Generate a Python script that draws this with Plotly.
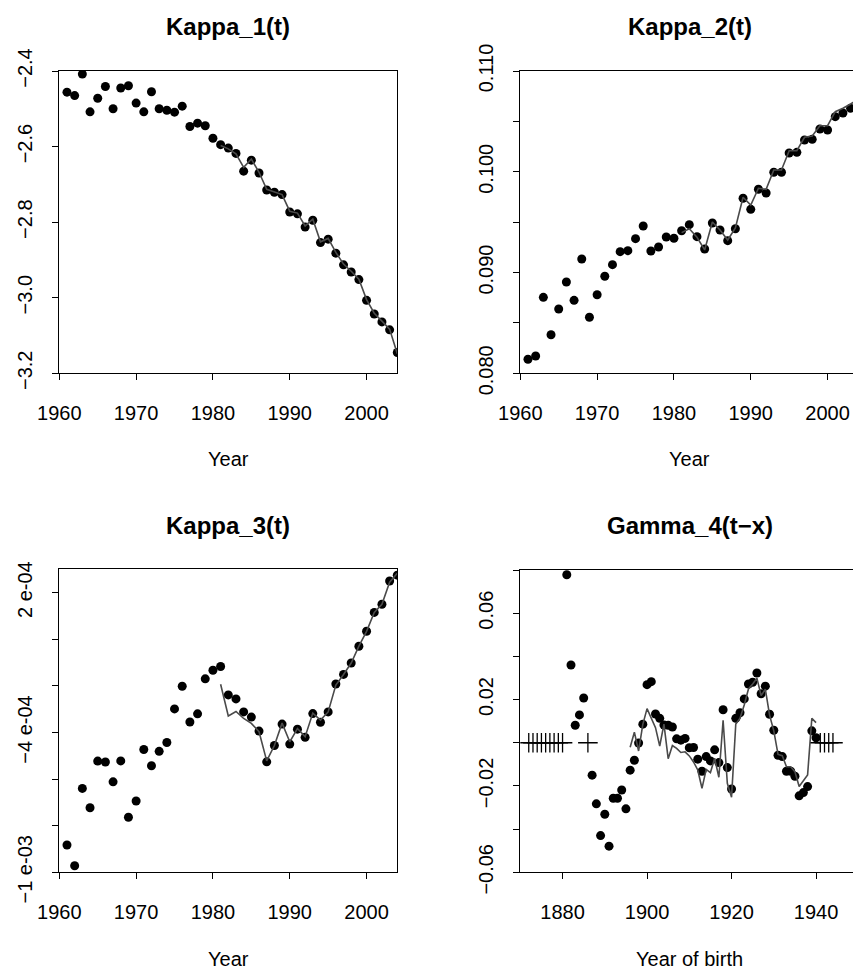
import plotly.graph_objects as go

W, H = 853, 969

# ---------------- data ----------------
years = list(range(1961, 2005))
fit_years = list(range(1981, 2005))

kappa1_pts = [-2.456, -2.465, -2.408, -2.508, -2.472, -2.441, -2.500, -2.445, -2.439, -2.485,
              -2.508, -2.455, -2.500, -2.504, -2.509, -2.493, -2.547, -2.538, -2.545, -2.578,
              -2.595, -2.604, -2.618, -2.665, -2.636, -2.670, -2.715, -2.721, -2.727, -2.773,
              -2.778, -2.813, -2.795, -2.854, -2.845, -2.882, -2.913, -2.932, -2.952, -3.007,
              -3.043, -3.064, -3.085, -3.145]
kappa1_fit = [-2.597, -2.606, -2.619, -2.655, -2.633, -2.668, -2.713, -2.720, -2.727, -2.771,
              -2.776, -2.810, -2.792, -2.852, -2.843, -2.880, -2.911, -2.930, -2.951, -3.005,
              -3.041, -3.062, -3.083, -3.148]

kappa2_pts = [0.08139, 0.08172, 0.08754, 0.08383, 0.08638, 0.08906, 0.08724, 0.09134, 0.08556, 0.08780,
              0.08963, 0.09078, 0.09207, 0.09217, 0.09336, 0.09462, 0.09214, 0.09253, 0.09353, 0.09340,
              0.09415, 0.09475, 0.09356, 0.09234, 0.09492, 0.09422, 0.09316, 0.09435, 0.09737, 0.09627,
              0.09826, 0.09789, 0.09995, 0.09995, 0.10186, 0.10193, 0.10315, 0.10322, 0.10424, 0.10414,
              0.10547, 0.10583, 0.10630, 0.10670]
kappa2_fit = [0.09396, 0.09435, 0.09350, 0.09224, 0.09502, 0.09422, 0.09323, 0.09442, 0.09747, 0.09670,
              0.09836, 0.09826, 0.10018, 0.10018, 0.10209, 0.10209, 0.10342, 0.10355, 0.10457, 0.10457,
              0.10596, 0.10630, 0.10673, 0.10720]

kappa3_pts = [-0.000883, -0.000972, -0.000640, -0.000723, -0.000523, -0.000527, -0.000612, -0.000522,
              -0.000764, -0.000694, -0.000473, -0.000543, -0.000481, -0.000443, -0.000299, -0.000202,
              -0.000355, -0.000320, -0.000170, -0.000133, -0.000117, -0.000239, -0.000256, -0.000312,
              -0.000334, -0.000394, -0.000526, -0.000456, -0.000364, -0.000450, -0.000386, -0.000421,
              -0.000319, -0.000356, -0.000312, -0.000192, -0.000151, -0.000102, -0.000030, 0.000034,
              0.000115, 0.000150, 0.000250, 0.000275]
kappa3_fit = [-0.000193, -0.000329, -0.000310, -0.000340, -0.000361, -0.000397, -0.000522, -0.000456,
              -0.000360, -0.000440, -0.000383, -0.000418, -0.000317, -0.000347, -0.000312, -0.000197,
              -0.000151, -0.000102, -0.000030, 0.000034, 0.000115, 0.000150, 0.000245, 0.000283]

cohort_years = [1881, 1882, 1883, 1884, 1885, 1887, 1888, 1889, 1890, 1891, 1892, 1893, 1894, 1895,
                1896, 1897, 1898, 1899, 1900, 1901, 1902, 1903, 1904, 1905, 1906, 1907, 1908, 1909,
                1910, 1911, 1912, 1913, 1914, 1915, 1916, 1917, 1918, 1919, 1920, 1921, 1922, 1923,
                1924, 1925, 1926, 1927, 1928, 1929, 1930, 1931, 1932, 1933, 1934, 1935, 1936, 1937,
                1938, 1939, 1940]
gamma4_pts = [0.0778, 0.0360, 0.0081, 0.0129, 0.0207, -0.0150, -0.0283, -0.0430, -0.0331, -0.0479,
              -0.0257, -0.0257, -0.0219, -0.0306, -0.0127, -0.0081, -0.0001, 0.0086, 0.0269, 0.0283,
              0.0133, 0.0113, 0.0082, 0.0081, 0.0073, 0.0018, 0.0012, 0.0020, -0.0023, -0.0022,
              -0.0076, -0.0132, -0.0064, -0.0084, -0.0033, -0.0092, 0.0153, -0.0115, -0.0214, 0.0113,
              0.0139, 0.0203, 0.0272, 0.0280, 0.0323, 0.0227, 0.0262, 0.0132, 0.0058, -0.0058,
              -0.0064, -0.0132, -0.0132, -0.0155, -0.0246, -0.0231, -0.0203, 0.0055, 0.0023]
gamma4_fit_years = list(range(1896, 1941))
gamma4_fit = [-0.0021, 0.0049, -0.0038, 0.0085, 0.0158, 0.0110, 0.0070, -0.0015, 0.0086, -0.0074,
              -0.0013, -0.0026, -0.0045, -0.0042, -0.0061, -0.0089, -0.0126, -0.0211, -0.0123, -0.0138,
              -0.0072, -0.0160, 0.0104, -0.0188, -0.0252, 0.0087, 0.0113, 0.0175, 0.0249, 0.0272,
              0.0299, 0.0218, 0.0248, 0.0128, 0.0055, -0.0054, -0.0060, -0.0111, -0.0111, -0.0134,
              -0.0203, -0.0176, -0.0149, 0.0113, 0.0093]
missing_cohorts = [1872, 1873, 1874, 1875, 1876, 1877, 1878, 1879, 1880, 1886, 1941, 1942, 1943, 1944]
missing_vals = [0, 0, 0, 0, 0, 0, 0, 0, 0, 0, 0, 0, 0, 0]

titles = ["Kappa_1(t)", "Kappa_2(t)", "Kappa_3(t)", "Gamma_4(t\u2212x)"]
xtitles = ["Year", "Year", "Year", "Year of birth"]

year_ticks = [1960, 1970, 1980, 1990, 2000]
year_ticktext = ["1960", "1970", "1980", "1990", "2000"]
birth_ticks = [1880, 1900, 1920, 1940]
birth_ticktext = ["1880", "1900", "1920", "1940"]

k1_yticks = [-2.4, -2.6, -2.8, -3.0, -3.2]
k1_yticktext = ["\u22122.4", "\u22122.6", "\u22122.8", "\u22123.0", "\u22123.2"]
k2_yticks = [0.080, 0.085, 0.090, 0.095, 0.100, 0.105, 0.110]
k2_yticktext = ["0.080", "", "0.090", "", "0.100", "", "0.110"]
k3_yticks = [-0.001, -0.0008, -0.0006, -0.0004, -0.0002, 0.0, 0.0002]
k3_yticktext = ["\u22121 e-03", "", "", "\u22124 e-04", "", "", "2 e-04"]
g4_yticks = [-0.06, -0.04, -0.02, 0.0, 0.02, 0.04, 0.06, 0.08]
g4_yticktext = ["\u22120.06", "", "\u22120.02", "", "0.02", "", "0.06", ""]

# ---------------- layout geometry (pixels) ----------------
def px_x(p):
    return p / W

def px_y(p):
    return 1 - p / H

L1, R1 = 59.3, 397.3
L2, R2 = 520.3, 853.0
T1, B1 = 71.0, 373.3
T2, B2 = 569.3, 872.3

FONT = "Liberation Sans, Arial, Helvetica, sans-serif"
DOT = dict(color="black", size=9)
FITLINE = dict(color="#4a4a4a", width=1.6)

fig = go.Figure()

def add_points(x, y, xa, ya):
    fig.add_trace(go.Scatter(x=x, y=y, mode="markers", marker=DOT, xaxis=xa, yaxis=ya,
                             showlegend=False, hoverinfo="skip"))

def add_line(x, y, xa, ya):
    fig.add_trace(go.Scatter(x=x, y=y, mode="lines", line=FITLINE, xaxis=xa, yaxis=ya,
                             showlegend=False, hoverinfo="skip"))

add_points(years, kappa1_pts, "x", "y")
add_line(fit_years, kappa1_fit, "x", "y")
add_points(years, kappa2_pts, "x2", "y2")
add_line(fit_years, kappa2_fit, "x2", "y2")
add_points(years, kappa3_pts, "x3", "y3")
add_line(fit_years, kappa3_fit, "x3", "y3")
add_points(cohort_years, gamma4_pts, "x4", "y4")
add_line(gamma4_fit_years, gamma4_fit, "x4", "y4")
fig.add_trace(go.Scatter(x=missing_cohorts, y=missing_vals, mode="markers",
                         marker=dict(symbol="cross-thin", size=14, color="black",
                                     line=dict(color="black", width=1.3)),
                         xaxis="x4", yaxis="y4", showlegend=False, hoverinfo="skip"))

common = dict(showline=True, linecolor="black", linewidth=1, ticks="outside", ticklen=6,
              tickwidth=1, tickcolor="black", showgrid=False, zeroline=False, automargin=False,
              tickfont=dict(family=FONT, size=20, color="black"), fixedrange=True)

def xaxis(dom, rng, tv, tt, anchor, mirror=True):
    d = dict(common)
    d.update(domain=[px_x(dom[0]), px_x(dom[1])], range=rng, tickmode="array",
             tickvals=tv, ticktext=tt, anchor=anchor, mirror=mirror, ticklabelstandoff=16)
    return d

def yaxis(dom, rng, tv, tt, anchor, mirror=True):
    d = dict(common)
    d.update(domain=[px_y(dom[1]), px_y(dom[0])], range=rng, tickmode="array",
             tickvals=tv, ticktext=tt, anchor=anchor, mirror=mirror, tickangle=-90,
             ticklabelstandoff=12)
    return d

x2_max = 1960 + (R2 - L2) / ((R1 - L1) / 44.0)
x4_max = 1870 + (R2 - L2) / ((R1 - L1) / 80.0)

fig.update_layout(
    width=W, height=H, margin=dict(l=0, r=0, t=0, b=0, autoexpand=False),
    paper_bgcolor="white", plot_bgcolor="white",
    xaxis=xaxis((L1, R1), [1960, 2004], year_ticks, year_ticktext, "y"),
    yaxis=yaxis((T1, B1), [-3.2, -2.4], k1_yticks, k1_yticktext, "x"),
    xaxis2=xaxis((L2, R2), [1960, x2_max], year_ticks, year_ticktext, "y2"),
    yaxis2=yaxis((T1, B1), [0.080, 0.110], k2_yticks, k2_yticktext, "x2", mirror=False),
    xaxis3=xaxis((L1, R1), [1960, 2004], year_ticks, year_ticktext, "y3"),
    yaxis3=yaxis((T2, B2), [-0.001, 0.0003], k3_yticks, k3_yticktext, "x3"),
    xaxis4=xaxis((L2, R2), [1870, x4_max], birth_ticks, birth_ticktext, "y4"),
    yaxis4=yaxis((T2 + 0.7, B2), [-0.06, 0.08], g4_yticks, g4_yticktext, "x4", mirror=False),
)

centers = [(L1 + R1) / 2, (L2 + 858.7) / 2, (L1 + R1) / 2, (L2 + 858.7) / 2]
title_y = [27, 27, 27 + 498.3, 27 + 498.3]
xtitle_y = [459, 459, 959, 959]
anns = []
for i in range(4):
    anns.append(dict(x=px_x(centers[i]), y=px_y(title_y[i]), xref="paper", yref="paper",
                     text="<b>%s</b>" % titles[i], showarrow=False, xanchor="center", yanchor="middle",
                     font=dict(family=FONT, size=24, color="black")))
    anns.append(dict(x=px_x(centers[i]), y=px_y(xtitle_y[i]), xref="paper", yref="paper",
                     text=xtitles[i], showarrow=False, xanchor="center", yanchor="middle",
                     font=dict(family=FONT, size=20, color="black")))
fig.update_layout(annotations=anns)

fig.write_html("out.html")
